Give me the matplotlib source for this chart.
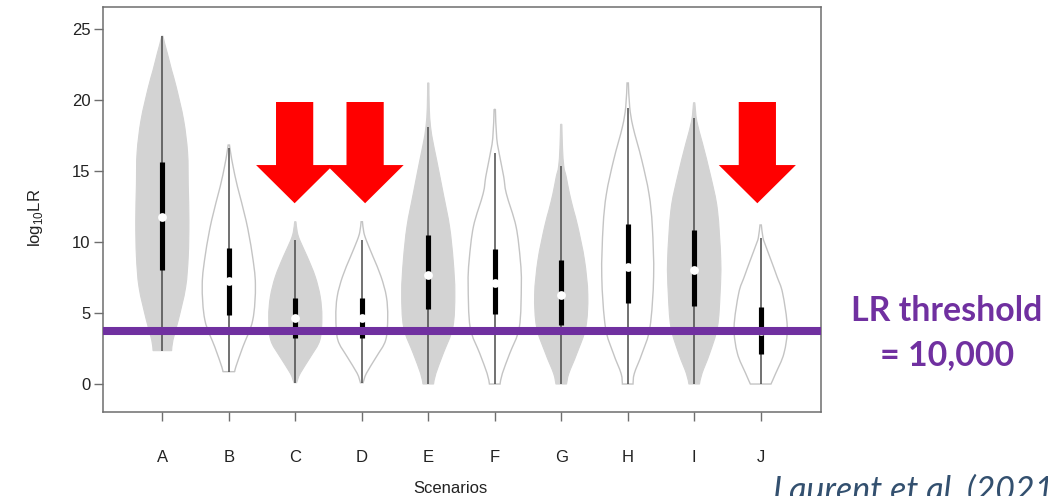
import matplotlib
matplotlib.use("Agg")
import matplotlib.pyplot as plt
import numpy as np
from matplotlib.path import Path
from matplotlib.patches import PathPatch, Polygon

# ---- data ----
scenarios = ["A", "B", "C", "D", "E", "F", "G", "H", "I", "J"]
filled = [True, False, True, False, True, False, True, False, True, False]

q1 = [8.03, 4.86, 3.22, 3.22, 5.26, 4.93, 4.15, 5.68, 5.49, 2.11]
median = [11.78, 7.25, 4.62, 4.65, 7.68, 7.09, 6.27, 8.22, 8.03, 3.75]
q3 = [15.65, 9.6, 6.03, 6.03, 10.49, 9.48, 8.73, 11.27, 10.85, 5.42]
whisker_lo = [2.35, 0.87, 0.09, 0.09, 0.0, 0.0, 0.0, 0.0, 0.0, 0.0]
whisker_hi = [24.5, 16.6, 10.14, 10.14, 18.1, 16.24, 15.35, 19.46, 18.76, 10.26]

# violin outline: levels (log10 LR) and half widths (in category units)
violin_y = [
    [2.35, 3.1, 4.5, 6.8, 9.0, 11.5, 14.0, 16.3, 18.6, 20.9, 22.1, 23.3, 23.9, 24.5],
    [0.87, 1.2, 2.6, 4.5, 7.0, 9.2, 11.5, 13.9, 15.3, 16.2, 16.83],
    [0.09, 0.76, 1.92, 3.1, 4.7, 6.15, 7.56, 8.96, 10.1, 10.7, 11.43],
    [0.09, 0.76, 1.92, 3.1, 4.7, 6.15, 7.56, 8.96, 10.1, 10.7, 11.43],
    [0.0, 0.75, 2.16, 4.0, 6.4, 8.7, 11.1, 13.4, 15.8, 16.95, 18.1, 19.5, 21.2],
    [0.0, 0.75, 2.16, 4.0, 7.0, 8.7, 11.1, 13.4, 14.6, 15.8, 17.3, 19.34],
    [0.0, 0.75, 2.16, 4.0, 6.3, 8.73, 11.08, 12.25, 13.4, 14.6, 15.3, 16.6, 18.29],
    [0.0, 0.75, 2.16, 4.0, 7.56, 11.1, 13.4, 15.8, 18.1, 19.5, 21.2],
    [0.0, 0.75, 2.16, 4.0, 6.4, 8.73, 12.25, 14.6, 16.95, 18.5, 19.81],
    [0.0, 0.75, 2.16, 4.0, 6.4, 7.56, 8.73, 9.8, 10.3, 11.2],
]
violin_halfwidth = [
    [0.14, 0.16, 0.24, 0.35, 0.39, 0.40, 0.39, 0.38, 0.32, 0.21, 0.14, 0.075, 0.04, 0.01],
    [0.09, 0.105, 0.21, 0.36, 0.40, 0.35, 0.26, 0.13, 0.065, 0.03, 0.01],
    [0.02, 0.075, 0.23, 0.37, 0.40, 0.375, 0.30, 0.18, 0.07, 0.03, 0.01],
    [0.02, 0.07, 0.22, 0.36, 0.39, 0.37, 0.29, 0.17, 0.07, 0.03, 0.01],
    [0.08, 0.115, 0.226, 0.37, 0.40, 0.375, 0.32, 0.226, 0.125, 0.075, 0.035, 0.015, 0.01],
    [0.08, 0.115, 0.226, 0.37, 0.40, 0.385, 0.32, 0.175, 0.135, 0.085, 0.03, 0.01],
    [0.08, 0.115, 0.236, 0.37, 0.40, 0.35, 0.25, 0.185, 0.125, 0.075, 0.04, 0.02, 0.01],
    [0.08, 0.10, 0.216, 0.335, 0.39, 0.37, 0.32, 0.21, 0.08, 0.03, 0.01],
    [0.08, 0.118, 0.233, 0.35, 0.39, 0.40, 0.35, 0.25, 0.125, 0.04, 0.01],
    [0.155, 0.226, 0.35, 0.40, 0.33, 0.246, 0.155, 0.07, 0.035, 0.01],
]

threshold = 3.75
arrow_at = [2.99, 4.05, 9.95]  # scenarios C, D, J

y_ticks = [0, 5, 10, 15, 20, 25]


def smooth_side(pts):
    # Catmull-Rom through the outline points, written as cubic bezier segments
    pts = np.asarray(pts, dtype=float)
    ext = np.vstack([pts[:1], pts, pts[-1:]])
    verts, codes = [], []
    for k in range(len(pts) - 1):
        p0, p1, p2, p3 = ext[k], ext[k + 1], ext[k + 2], ext[k + 3]
        c1 = p1 + (p2 - p0) / 6.0
        c2 = p2 - (p3 - p1) / 6.0
        verts += [tuple(c1), tuple(c2), tuple(p2)]
        codes += [Path.CURVE4] * 3
    return verts, codes


def violin_path(pos, ys, hw):
    right = [(pos + w, y) for y, w in zip(ys, hw)]
    left = [(pos - w, y) for y, w in zip(ys[::-1], hw[::-1])]
    verts, codes = [right[0]], [Path.MOVETO]
    v, c = smooth_side(right)
    verts += v
    codes += c
    verts.append(left[0])
    codes.append(Path.LINETO)
    v, c = smooth_side(left)
    verts += v
    codes += c
    verts.append(right[0])
    codes.append(Path.CLOSEPOLY)
    return Path(verts, codes)


# ---- plot ----
plt.rcParams["font.family"] = ["Liberation Sans", "DejaVu Sans"]
fig = plt.figure(figsize=(10.48, 4.96), dpi=100)
ax = fig.add_axes([102.5 / 1048, 84 / 496, 718 / 1048, 405 / 496])

frame_col = "#6e6e6e"
for i, name in enumerate(scenarios):
    pos = i + 1
    path = violin_path(pos, violin_y[i], violin_halfwidth[i])
    if filled[i]:
        patch = PathPatch(path, facecolor="#d3d3d3", edgecolor="#d3d3d3", lw=0.8, zorder=2)
    else:
        patch = PathPatch(path, facecolor="white", edgecolor="#c4c4c4", lw=1.0, zorder=2)
    ax.add_patch(patch)
    ax.plot([pos, pos], [whisker_lo[i], whisker_hi[i]], color="#4a4a4a", lw=1.1,
            solid_capstyle="butt", zorder=3)
    ax.plot([pos, pos], [q1[i], q3[i]], color="black", lw=3.7, solid_capstyle="butt", zorder=4)
    ax.plot(pos, median[i], "o", color="white", ms=6.3, mew=0, zorder=5)

ax.axhline(threshold, color="#7030a0", lw=5.8, zorder=6)

# red arrows
for xc in arrow_at:
    shaft, head = 0.28, 0.58
    top, base, tip = 19.86, 15.42, 12.73
    arrow = [(xc - shaft, top), (xc + shaft, top), (xc + shaft, base), (xc + head, base),
             (xc, tip), (xc - head, base), (xc - shaft, base)]
    ax.add_patch(Polygon(arrow, closed=True, facecolor="#ff0000", edgecolor="none", zorder=7))

ax.set_xlim(0.1, 10.9)
ax.set_ylim(-1.97, 26.55)
ax.set_xticks(range(1, len(scenarios) + 1))
ax.set_xticklabels(scenarios)
ax.set_yticks(y_ticks)
for s in ax.spines.values():
    s.set_color(frame_col)
    s.set_linewidth(1.1)
ax.tick_params(axis="both", direction="out", length=6.5, width=1.0, color=frame_col,
               labelsize=12, labelcolor="#222222")
ax.tick_params(axis="x", pad=21)
ax.tick_params(axis="y", pad=2)

ax.text(-0.094, 0.479, r"log$_{\mathregular{10}}$LR", transform=ax.transAxes, rotation=90,
        ha="center", va="center", fontsize=12, color="#222222")
ax.text(0.484, -0.188, "Scenarios", transform=ax.transAxes, ha="center", va="center",
        fontsize=12, color="#222222")

fig.text(947 / 1048, 1 - 320.7 / 496, "LR threshold", ha="center", va="baseline",
         fontsize=24.4, fontweight="bold", family="Lato", color="#7030a0")
fig.text(947 / 1048, 1 - 365 / 496, "= 10,000", ha="center", va="baseline",
         fontsize=24.4, fontweight="bold", family="Lato", color="#7030a0")
fig.text(773 / 1048, 1 - 501 / 496, "Laurent et al. (2021)", ha="left", va="baseline",
         fontsize=24.4, style="italic", family="Lato", color="#33506f")

fig.savefig("out.png", dpi=100)
